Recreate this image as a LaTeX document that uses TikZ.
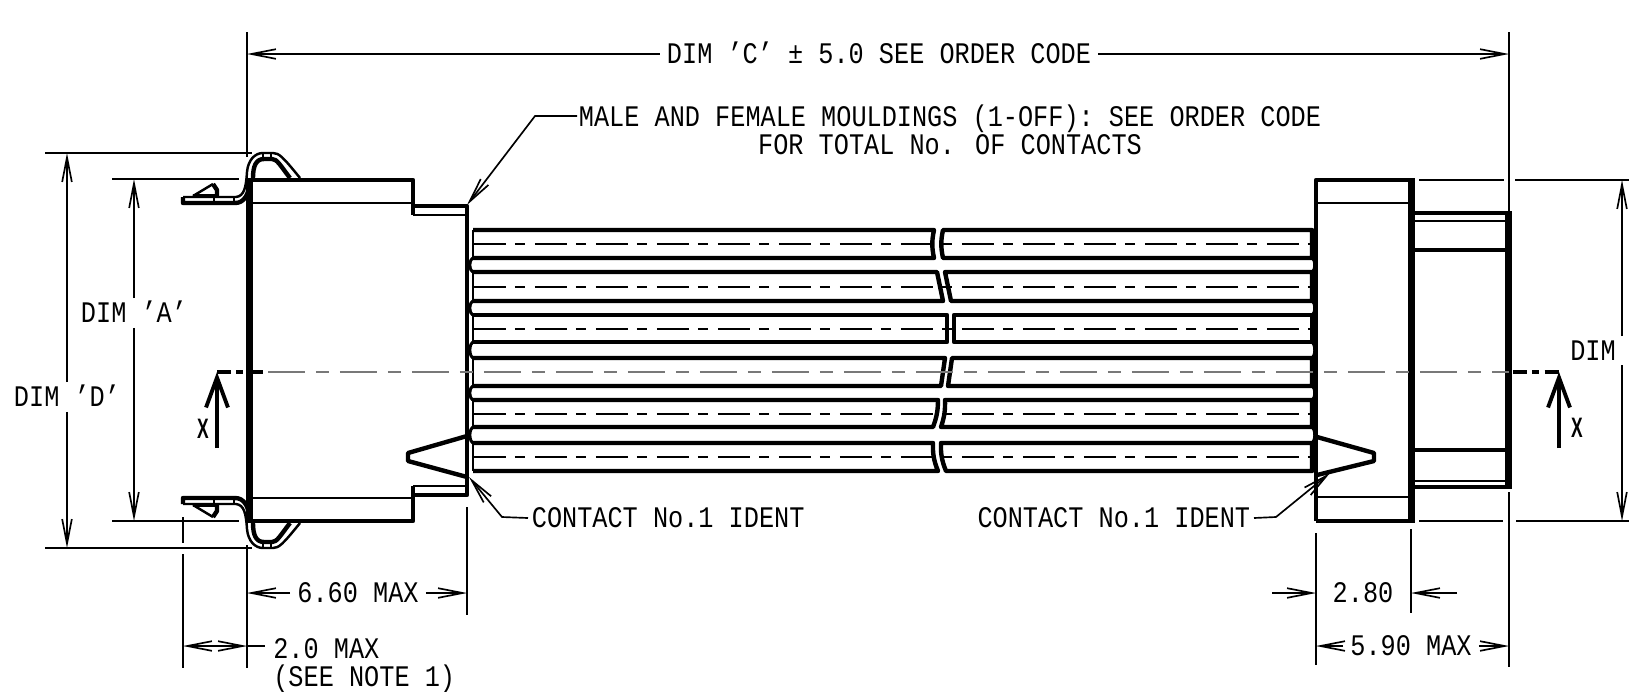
\documentclass[tikz,border=0pt]{standalone}
\usepackage{fontspec}
\setmainfont{Liberation Mono}[FakeStretch=0.845]
\newfontfamily\xfont{Liberation Sans Bold}[FakeStretch=0.62]
\usetikzlibrary{arrows.meta}
\definecolor{mgray}{RGB}{120,120,120}

\tikzset{
  outline/.style={line width=2.5pt,line join=round},
  heavy/.style={line width=4pt},
  fine/.style={line width=0.7pt},
  extline/.style={line width=0.95pt},
  dimline/.style={line width=0.95pt,>={Straight Barb[length=14pt,width=5.5pt]}},
  secline/.style={line width=2.2pt,>={Straight Barb[length=17pt,width=12.5pt]}},
  secdash/.style={line width=2.2pt,dash pattern=on 8pt off 3pt on 4pt off 3pt},
  axis/.style={line width=0.8pt,dash pattern=on .74cm off .22cm on .26cm off .22cm},
  ribbonaxis/.style={line width=0.8pt,dash pattern=on .64cm off .18cm on .2cm off .2cm},
  dimtext/.style={font=\fontsize{17}{15.9}\selectfont},
  dimnode/.style={dimtext,inner xsep=4pt,inner ysep=2.7pt,text height=11.2pt,text depth=0pt},
  xmark/.style={inner sep=2pt,font=\xfont\fontsize{16}{16}\selectfont},
  clip part/.pic={
    \draw[line width=1.4pt,line join=round] (183,197) -- (236,197) .. controls (244,196) and (246,188) .. (247,172)
      .. controls (248,160) and (255,153) .. (263,153) -- (273,153) .. controls (279,153) and (283,157) .. (300,178);
    \draw[outline] (183,197) -- (183,203) -- (235,203) .. controls (244,203) and (249,195) .. (250,180);
    \draw[outline] (253,178) .. controls (253,166) and (256,159) .. (264,159) -- (272,159) .. controls (277,159) and (280,165) .. (290,178);
    \draw[fine] (214,197) -- (214,203);
    \draw[fine] (234,197) -- (234,203);
    \draw[fine] (263,153) -- (263,159);
    \draw[fine] (271,153) -- (271,159);
    \draw[fine] (193,195) -- (217,195);
    \draw[line width=1.4pt] (193,196) -- (213,184);
    \draw[outline] (213,184) -- (217,190) -- (217,196);
  }
}

\begin{document}
\begin{tikzpicture}[x=0.02cm,y=-0.02cm]
  \useasboundingbox (0,0) rectangle (1629,691);

  % male moulding
  \draw[outline] (249,180) -- (413,180) -- (413,215);
  \draw[outline] (413,206) -- (467,206) -- (467,495) -- (413,495);
  \draw[outline] (413,486) -- (413,521) -- (249,521);
  \draw[heavy] (249.5,178) -- (249.5,523);
  \draw[fine] (251,203) -- (413,203);
  \draw[fine] (251,498) -- (413,498);
  \draw[fine] (413,215) -- (467,215);
  \draw[fine] (413,486) -- (467,486);
  \draw[outline] (467,436) -- (408,453) -- (408,461) -- (467,477);
  \pic at (0,0) {clip part};
  \pic[yscale=-1] at (0,701) {clip part};

  % female moulding
  \draw[outline] (1316,521) -- (1316,180) -- (1410,180);
  \draw[outline] (1410,521) -- (1316,521);
  \draw[heavy] (1411,178) -- (1411,523);
  \draw[fine] (1317,203) -- (1409,203);
  \draw[fine] (1317,497) -- (1409,497);
  \draw[outline] (1317,437) -- (1374,453) -- (1374,461) -- (1317,475);
  \draw[outline] (1412,213) -- (1508,213);
  \draw[outline] (1412,250) -- (1506,250);
  \draw[outline] (1412,450) -- (1506,450);
  \draw[outline] (1412,487) -- (1508,487);
  \draw[heavy] (1508,211) -- (1508,489);
  \draw[fine] (1412,221) -- (1506,221);
  \draw[fine] (1412,481) -- (1506,481);

  % ribbon
  \foreach \ytop/\ybot/\la/\lb/\ra/\rb/\bendl in {230/258/934/934/943/943/12, 272/301/937/943/945/951/0,
      315/342/947/947/954/954/0, 358/386/945/941/952/948/0, 400/427/938/933/945/941/-10, 443/471/933/938/941/946/12} {
    \draw[outline] (473,\ytop) -- (\la,\ytop) to[bend right=\bendl] (\lb,\ybot) -- (473,\ybot);
    \draw[line width=1.6pt] (473,\ytop) -- (473,\ybot);
    \draw[outline] (1312,\ytop) -- (\ra,\ytop) to[bend right=\bendl] (\rb,\ybot) -- (1312,\ybot) -- cycle;
  }
  \foreach \ya/\yb in {258/272, 301/315, 342/358, 386/400, 427/443} {
    \draw[line width=1.7pt] (474,\ya) .. controls (468.5,\ya) and (468.5,\yb) .. (474,\yb);
    \draw[line width=1.7pt] (1311,\ya) .. controls (1316,\ya) and (1316,\yb) .. (1311,\yb);
  }
  \foreach \yc in {244, 287, 329, 414, 457} {
    \draw[ribbonaxis] (474,\yc) -- (1310,\yc);
  }
  \draw[axis,mgray] (268,372) -- (1509,372); % section axis

  % section arrows
  \coordinate (secLa) at (217,448);
  \coordinate (secLb) at (217,372);
  \coordinate (secLc) at (263,372);
  \coordinate (secRa) at (1559,448);
  \coordinate (secRb) at (1559,372);
  \coordinate (secRc) at (1513,372);
  \draw[secline,->] (secLa) -- (secLb);
  \draw[secline,->] (secRa) -- (secRb);
  \draw[secdash] (secLb) -- (secLc);
  \draw[secdash] (secRc) -- (secRb);
  \node[xmark] (xL) at (203,429) {X};
  \node[xmark] (xR) at (1577,428) {X};

  % extension lines
  \draw[extline] (247,32) -- (247,157);
  \draw[extline] (247,545) -- (247,668);
  \draw[extline] (1509,32) -- (1509,212);
  \draw[extline] (1509,492) -- (1509,667);
  \draw[extline] (467,507) -- (467,615);
  \draw[extline] (1316,533) -- (1316,665);
  \draw[extline] (1411,529) -- (1411,613);
  \draw[extline] (183,517) -- (183,543);
  \draw[extline] (183,554) -- (183,668);
  \draw[extline] (45,153) -- (252,153);
  \draw[extline] (45,548) -- (252,548);
  \draw[extline] (112,179) -- (239,179);
  \draw[extline] (112,521) -- (239,521);
  \draw[extline] (1419,180) -- (1504,180);
  \draw[extline] (1515,180) -- (1629,180);
  \draw[extline] (1419,521) -- (1503,521);
  \draw[extline] (1516,521) -- (1629,521);

  % dimensions
  \coordinate (cL) at (247,54);
  \coordinate (cR) at (1509,54);
  \node[dimnode] (dimC) at (879,54) {DIM 'C' ± 5.0 SEE ORDER CODE};
  \draw[dimline,->] (dimC) -- (cL);
  \draw[dimline,->] (dimC) -- (cR);

  \coordinate (dT) at (67,153);
  \coordinate (dB) at (67,548);
  \node[dimnode] (dimD) at (67,397) {DIM 'D'};
  \draw[dimline,->] (dimD) -- (dT);
  \draw[dimline,->] (dimD) -- (dB);

  \coordinate (aT) at (134,179);
  \coordinate (aB) at (134,521);
  \node[dimnode] (dimA) at (134,313) {DIM 'A'};
  \draw[dimline,->] (dimA) -- (aT);
  \draw[dimline,->] (dimA) -- (aB);

  \coordinate (bT) at (1622,180);
  \coordinate (bU) at (1622,336);
  \coordinate (bL) at (1622,365);
  \coordinate (bB) at (1622,521);
  \node[dimnode] (dimB) at (1593,351) {DIM};
  \draw[dimline,->] (bU) -- (bT);
  \draw[dimline,->] (bL) -- (bB);

  \coordinate (mL) at (247,593);
  \coordinate (mR) at (467,593);
  \node[dimnode] (dimSix) at (358,593) {6.60 MAX};
  \draw[dimline,->] (dimSix) -- (mL);
  \draw[dimline,->] (dimSix) -- (mR);

  \coordinate (tA) at (183,646);
  \coordinate (tB) at (247,646);
  \coordinate (tC) at (265,646);
  \draw[dimline,<->] (tA) -- (tB);
  \draw[dimline] (tB) -- (tC);
  \node[dimtext,anchor=north west,align=left,inner sep=0pt] (dimTwo) at (273,638) {2.0 MAX\\(SEE NOTE 1)};

  \coordinate (eA) at (1272,593);
  \coordinate (eB) at (1316,593);
  \coordinate (eC) at (1411,593);
  \coordinate (eD) at (1457,593);
  \node[dimnode] (dimEight) at (1363,593) {2.80};
  \draw[dimline,->] (eA) -- (eB);
  \draw[dimline,->] (eD) -- (eC);

  \coordinate (fL) at (1316,646);
  \coordinate (fR) at (1509,646);
  \node[dimnode] (dimFive) at (1411,646) {5.90 MAX};
  \draw[dimline,->] (dimFive) -- (fL);
  \draw[dimline,->] (dimFive) -- (fR);

  % leaders
  \node[dimtext,align=center] (noteTop) at (950,130) {MALE AND FEMALE MOULDINGS (1-OFF): SEE ORDER CODE\\FOR TOTAL No. OF CONTACTS};
  \coordinate (noteStart) at (577,116);
  \coordinate (noteKnee) at (535,116);
  \coordinate (noteTip) at (467,205);
  \draw[dimline,->] (noteStart) -- (noteKnee) -- (noteTip);

  \node[dimtext,anchor=west,inner sep=2pt] (identL) at (528,518) {CONTACT No.1 IDENT};
  \coordinate (identLk) at (502,517);
  \coordinate (identLt) at (469,477);
  \draw[dimline,->] (identL.west) -- (identLk) -- (identLt);

  \node[dimtext,anchor=east,inner sep=2pt] (identR) at (1254,518) {CONTACT No.1 IDENT};
  \coordinate (identRk) at (1276,517);
  \coordinate (identRt) at (1330,473);
  \draw[dimline,->] (identR.east) -- (identRk) -- (identRt);
\end{tikzpicture}
\end{document}
